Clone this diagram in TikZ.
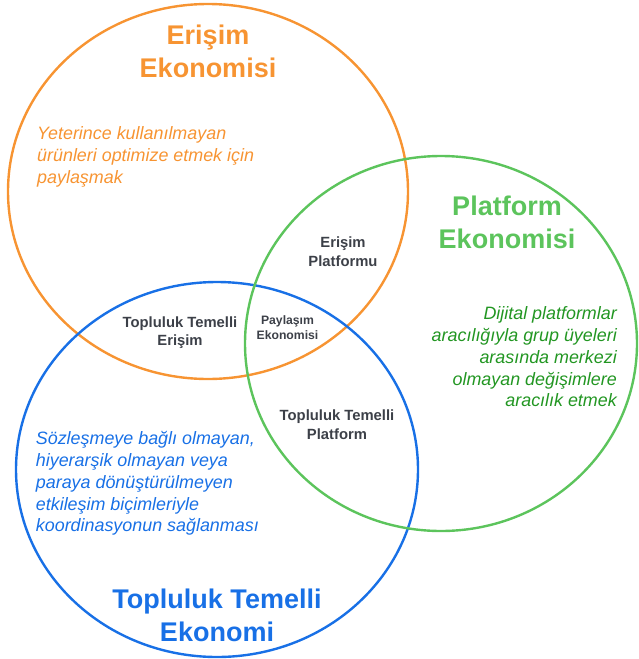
\documentclass[tikz,border=0pt]{standalone}
\usepackage{fontspec}
\setmainfont{Liberation Sans}
\definecolor{corange}{RGB}{247,148,50}
\definecolor{cgreen}{RGB}{92,196,92}
\definecolor{cgreentxt}{RGB}{34,150,34}
\definecolor{cblue}{RGB}{24,112,230}
\definecolor{cgray}{RGB}{60,64,72}
\tikzset{
  ring/.style={line width=2.4pt},
  title/.style={font=\fontsize{27}{32.7}\selectfont\bfseries, align=center, anchor=base, inner sep=0pt},
  desc/.style={font=\fontsize{17.9}{21.7}\selectfont\itshape, anchor=base west, align=left, inner sep=0pt},
  descr/.style={font=\fontsize{17.9}{21.7}\selectfont\itshape, anchor=base east, align=right, inner sep=0pt},
  zone/.style={font=\fontsize{14.8}{18.4}\selectfont\bfseries, text=cgray, align=center, anchor=base, inner sep=0pt},
}
\begin{document}
\begin{tikzpicture}[x=1pt,y=-1pt]
\useasboundingbox (0,0) rectangle (638,659);
\draw[ring, corange] (208,191.5) ellipse [x radius=200, y radius=187.5];
\draw[ring, cblue] (217,469.5) ellipse [x radius=201, y radius=187.5];
\draw[ring, cgreen] (441,343.5) ellipse [x radius=196, y radius=187.5];

\node[title, text=corange] (t1) at (208,77) {Erişim\\Ekonomisi};
\node[title, text=cgreen] (t2) at (507,248) {Platform\\Ekonomisi};
\node[title, text=cblue] (t3) at (217,641) {Topluluk Temelli\\Ekonomi};

\node[desc, text=corange] (d1) at (37,183) {Yeterince kullanılmayan\\ürünleri optimize etmek için\\paylaşmak};
\node[descr, text=cgreentxt] (d2) at (617,406.7) {Dijital platformlar\\aracılığıyla grup üyeleri\\arasında merkezi\\olmayan değişimlere\\aracılık etmek};
\node[desc, text=cblue] (d3) at (35.7,531.7) {Sözleşmeye bağlı olmayan,\\hiyerarşik olmayan veya\\paraya dönüştürülmeyen\\etkileşim biçimleriyle\\koordinasyonun sağlanması};

\node[zone] (z1) at (343,266) {Erişim\\Platformu};
\node[zone] (z2) at (180,345.7) {Topluluk Temelli\\Erişim};
\node[zone, font=\fontsize{12.2}{15.3}\selectfont\bfseries] (z3) at (287.5,339.3) {Paylaşım\\Ekonomisi};
\node[zone] (z4) at (337,439.3) {Topluluk Temelli\\Platform};
\end{tikzpicture}
\end{document}
